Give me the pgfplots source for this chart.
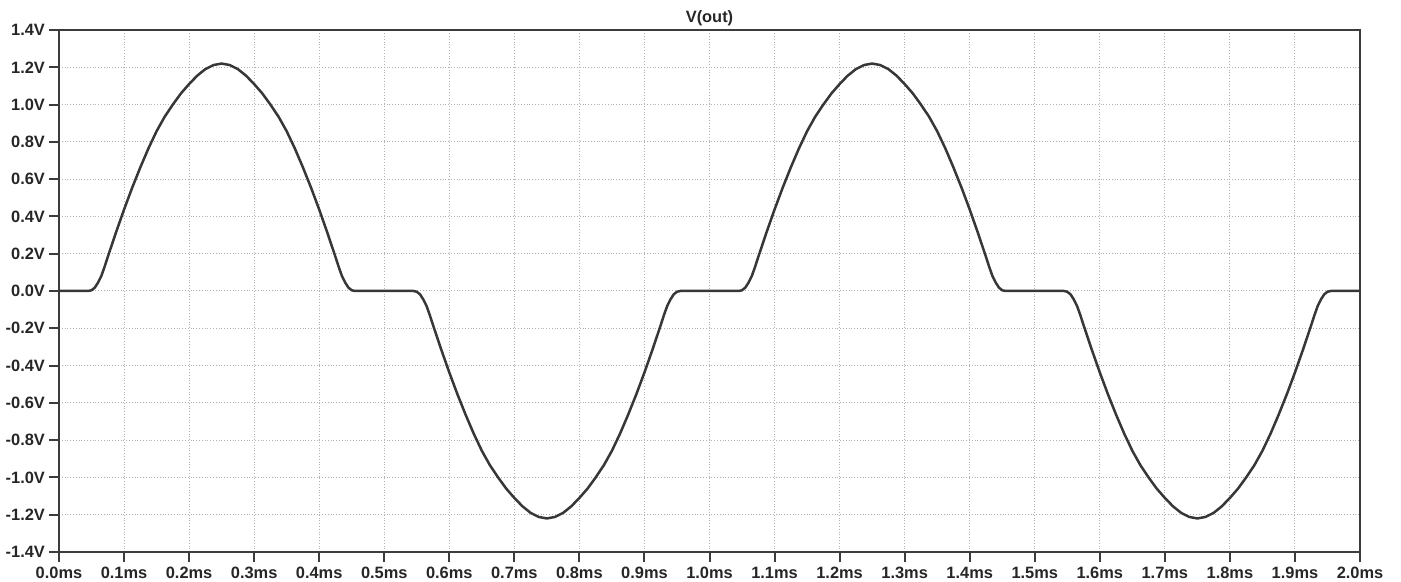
\documentclass[border=0pt]{standalone}
\usepackage{fontspec}
\setmainfont{Liberation Sans}
\usepackage{pgfplots}
\pgfplotsset{compat=1.18}
\definecolor{trace}{RGB}{55,55,55}
\definecolor{frame}{RGB}{60,60,60}
\begin{document}
\begin{tikzpicture}
\path[use as bounding box] (-29.5pt,-15pt) rectangle (671pt,276pt);
\begin{axis}[
    at={(0,0)}, anchor=south west,
    scale only axis,
    width=650.5pt, height=261pt,
    xmin=0, xmax=2, ymin=-1.4, ymax=1.4,
    xtick={0,0.1,...,2.01},
    xticklabels={0.0ms,0.1ms,0.2ms,0.3ms,0.4ms,0.5ms,0.6ms,0.7ms,0.8ms,0.9ms,1.0ms,1.1ms,1.2ms,1.3ms,1.4ms,1.5ms,1.6ms,1.7ms,1.8ms,1.9ms,2.0ms},
    ytick={-1.4,-1.2,-1.0,-0.8,-0.6,-0.4,-0.2,0,0.2,0.4,0.6,0.8,1.0,1.2,1.4},
    yticklabels={-1.4V,-1.2V,-1.0V,-0.8V,-0.6V,-0.4V,-0.2V,0.0V,0.2V,0.4V,0.6V,0.8V,1.0V,1.2V,1.4V},
    xtick pos=bottom, ytick pos=left,
    tick align=outside,
    major tick length=5pt,
    tick style={frame, line width=1pt},
    ticklabel style={font=\fontsize{8.2}{9}\selectfont\bfseries, text=black!85},
    y tick label style={xshift=1.5pt},
    x tick label style={yshift=1pt},
    grid=major,
    major grid style={densely dotted, gray!60, line width=0.5pt},
    axis line style={frame, line width=1.3pt},
    title={V(out)},
    title style={font=\fontsize{8.2}{9}\selectfont\bfseries, text=black!85, yshift=-7.5pt},
]
\addplot[trace, line width=1.25pt] coordinates {
(0,0) (0.045,0) (0.05,0.004) (0.055,0.018) (0.06,0.045) (0.065,0.08) (0.07,0.129) (0.075,0.183)
(0.0875,0.313) (0.1,0.437) (0.1125,0.554) (0.125,0.663) (0.1375,0.765) (0.15,0.857) (0.1625,0.935)
(0.175,1.0) (0.1875,1.06) (0.2,1.11) (0.2125,1.155) (0.225,1.19) (0.2375,1.212) (0.25,1.22)
(0.2625,1.212) (0.275,1.19) (0.2875,1.155) (0.3,1.11) (0.3125,1.06) (0.325,1.0) (0.3375,0.935)
(0.35,0.857) (0.3625,0.765) (0.375,0.663) (0.3875,0.554) (0.4,0.437) (0.4125,0.313) (0.425,0.183)
(0.43,0.129) (0.435,0.08) (0.44,0.045) (0.445,0.018) (0.45,0.004) (0.455,0)
(0.545,0) (0.55,-0.004) (0.555,-0.018) (0.56,-0.045) (0.565,-0.08) (0.57,-0.129) (0.575,-0.183)
(0.5875,-0.313) (0.6,-0.437) (0.6125,-0.554) (0.625,-0.663) (0.6375,-0.765) (0.65,-0.857) (0.6625,-0.935)
(0.675,-1.0) (0.6875,-1.06) (0.7,-1.11) (0.7125,-1.155) (0.725,-1.19) (0.7375,-1.212) (0.75,-1.22)
(0.7625,-1.212) (0.775,-1.19) (0.7875,-1.155) (0.8,-1.11) (0.8125,-1.06) (0.825,-1.0) (0.8375,-0.935)
(0.85,-0.857) (0.8625,-0.765) (0.875,-0.663) (0.8875,-0.554) (0.9,-0.437) (0.9125,-0.313) (0.925,-0.183)
(0.93,-0.129) (0.935,-0.08) (0.94,-0.045) (0.945,-0.018) (0.95,-0.004) (0.955,0)
(1.045,0) (1.05,0.004) (1.055,0.018) (1.06,0.045) (1.065,0.08) (1.07,0.129) (1.075,0.183)
(1.0875,0.313) (1.1,0.437) (1.1125,0.554) (1.125,0.663) (1.1375,0.765) (1.15,0.857) (1.1625,0.935)
(1.175,1.0) (1.1875,1.06) (1.2,1.11) (1.2125,1.155) (1.225,1.19) (1.2375,1.212) (1.25,1.22)
(1.2625,1.212) (1.275,1.19) (1.2875,1.155) (1.3,1.11) (1.3125,1.06) (1.325,1.0) (1.3375,0.935)
(1.35,0.857) (1.3625,0.765) (1.375,0.663) (1.3875,0.554) (1.4,0.437) (1.4125,0.313) (1.425,0.183)
(1.43,0.129) (1.435,0.08) (1.44,0.045) (1.445,0.018) (1.45,0.004) (1.455,0)
(1.545,0) (1.55,-0.004) (1.555,-0.018) (1.56,-0.045) (1.565,-0.08) (1.57,-0.129) (1.575,-0.183)
(1.5875,-0.313) (1.6,-0.437) (1.6125,-0.554) (1.625,-0.663) (1.6375,-0.765) (1.65,-0.857) (1.6625,-0.935)
(1.675,-1.0) (1.6875,-1.06) (1.7,-1.11) (1.7125,-1.155) (1.725,-1.19) (1.7375,-1.212) (1.75,-1.22)
(1.7625,-1.212) (1.775,-1.19) (1.7875,-1.155) (1.8,-1.11) (1.8125,-1.06) (1.825,-1.0) (1.8375,-0.935)
(1.85,-0.857) (1.8625,-0.765) (1.875,-0.663) (1.8875,-0.554) (1.9,-0.437) (1.9125,-0.313) (1.925,-0.183)
(1.93,-0.129) (1.935,-0.08) (1.94,-0.045) (1.945,-0.018) (1.95,-0.004) (1.955,0) (2.0,0)
};
\end{axis}
\end{tikzpicture}
\end{document}
